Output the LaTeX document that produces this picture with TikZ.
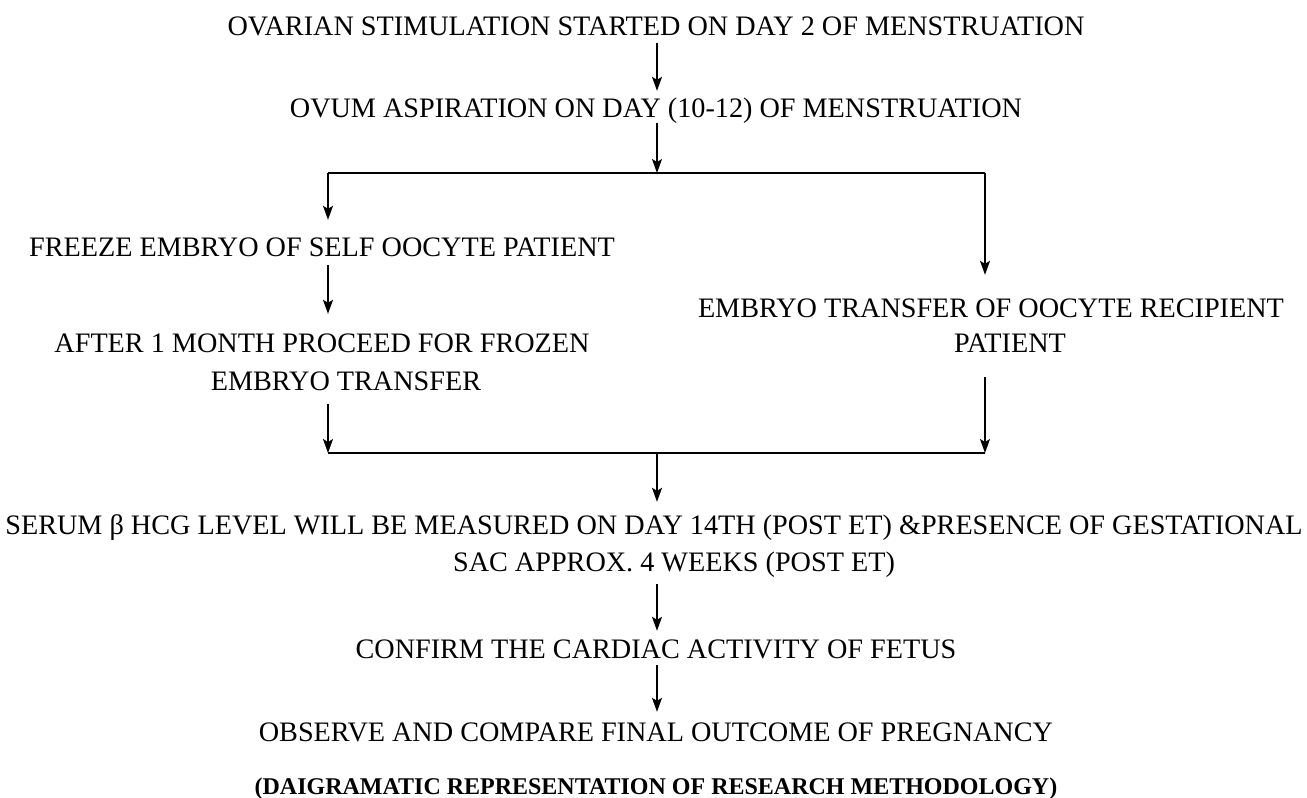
\documentclass[tikz,border=0pt]{standalone}
\usepackage{fontspec}
\setmainfont{Liberation Serif}
\usetikzlibrary{arrows.meta}
\begin{document}
\begin{tikzpicture}[x=1pt,y=-1pt,
  txt/.style={inner sep=0pt, anchor=base, text height=20pt, text depth=6pt, font=\fontsize{28.2}{34}\selectfont},
  ttlstyle/.style={inner sep=0pt, anchor=base, font=\fontsize{24}{30}\selectfont\bfseries},
  arr/.style={line width=1.3pt, -{Stealth[length=14pt,width=10pt,inset=3pt]}},
  ln/.style={line width=1.3pt}]
\useasboundingbox (0,0) rectangle (1307,798);
% texts
\node[txt] (l1) at (656,35) {OVARIAN STIMULATION STARTED ON DAY 2 OF MENSTRUATION};
\node[txt] (l2) at (656,117) {OVUM ASPIRATION ON DAY (10-12) OF MENSTRUATION};
\node[txt] (fr) at (322,256) {FREEZE EMBRYO OF SELF OOCYTE PATIENT};
\node[txt] (af1) at (322,352) {AFTER 1 MONTH PROCEED FOR FROZEN};
\node[txt] (af2) at (346,390) {EMBRYO TRANSFER};
\node[txt] (rt1) at (991,317) {EMBRYO TRANSFER OF OOCYTE RECIPIENT};
\node[txt] (rt2) at (1010,352) {PATIENT};
\node[txt] (s1) at (654,534) {SERUM β HCG LEVEL WILL BE MEASURED ON DAY 14TH (POST ET) \&PRESENCE OF GESTATIONAL};
\node[txt] (s2) at (674,571) {SAC APPROX. 4 WEEKS (POST ET)};
\node[txt] (cf) at (656,658) {CONFIRM THE CARDIAC ACTIVITY OF FETUS};
\node[txt] (ob) at (656,741) {OBSERVE AND COMPARE FINAL OUTCOME OF PREGNANCY};
\node[ttlstyle] (ttl) at (656,794) {(DAIGRAMATIC REPRESENTATION OF RESEARCH METHODOLOGY)};
% junctions
\coordinate (jT) at (657,173);
\coordinate (jL) at (328,173);
\coordinate (jR) at (985,173);
\coordinate (jBL) at (328,453);
\coordinate (jBR) at (985,453);
\coordinate (jB) at (657,453);
% connectors
\draw[arr, shorten <=2pt, shorten >=6pt] (l1.south -| jT) -- (l2.north -| jT);
\draw[arr] (l2.south -| jT) -- (jT);
\draw[ln] (jL) -- (jR);
\draw[arr, shorten >=16pt] (jL) -- (fr.north -| jL);
\draw[arr, shorten >=22pt] (jR) -- (rt1.north -| jR);
\draw[arr, shorten <=3pt, shorten >=18pt] (fr.south -| jL) -- (af1.north -| jL);
\draw[arr, shorten <=8pt] (af2.south -| jBL) -- (jBL);
\draw[arr, shorten <=19pt] (rt2.south -| jBR) -- (jBR);
\draw[ln] (jBL) -- (jBR);
\draw[arr, shorten >=12pt] (jB) -- (s1.north -| jB);
\draw[arr, shorten <=7pt, shorten >=7pt] (s2.south -| jB) -- (cf.north -| jB);
\draw[arr, shorten <=1pt, shorten >=9pt] (cf.south -| jB) -- (ob.north -| jB);
\end{tikzpicture}
\end{document}
